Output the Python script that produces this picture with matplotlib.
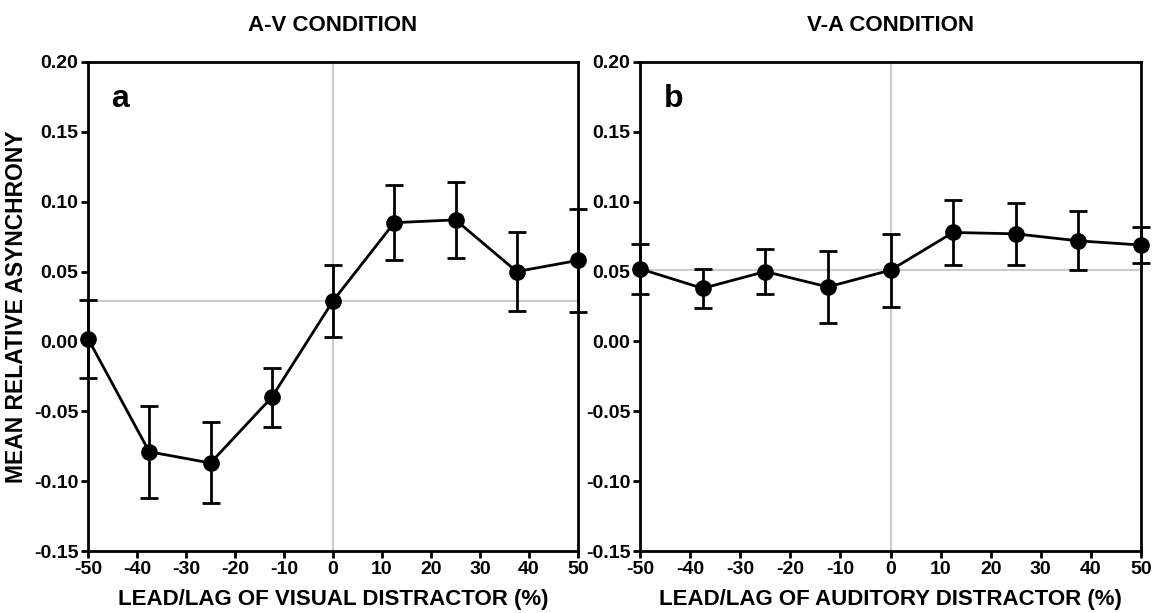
import matplotlib
matplotlib.use("Agg")
import matplotlib.pyplot as plt

plt.rcParams['font.family'] = ['Liberation Sans', 'DejaVu Sans']
plt.rcParams['font.weight'] = 'bold'

x_vals = [-50, -37.5, -25, -12.5, 0, 12.5, 25, 37.5, 50]
av_mean = [0.002, -0.079, -0.087, -0.040, 0.029, 0.085, 0.087, 0.050, 0.058]
av_err = [0.028, 0.033, 0.029, 0.021, 0.026, 0.027, 0.027, 0.028, 0.037]
va_mean = [0.052, 0.038, 0.050, 0.039, 0.051, 0.078, 0.077, 0.072, 0.069]
va_err = [0.018, 0.014, 0.016, 0.026, 0.026, 0.023, 0.022, 0.021, 0.013]

x_ticks = [-50, -40, -30, -20, -10, 0, 10, 20, 30, 40, 50]
y_ticks = [-0.15, -0.10, -0.05, 0.00, 0.05, 0.10, 0.15, 0.20]

titles = ["A-V CONDITION", "V-A CONDITION"]
xlabels = ["LEAD/LAG OF VISUAL DISTRACTOR (%)", "LEAD/LAG OF AUDITORY DISTRACTOR (%)"]
panel_letters = ["a", "b"]
ylabel = "MEAN RELATIVE ASYNCHRONY"

fig = plt.figure(figsize=(11.52, 6.13), dpi=100)
ax1 = fig.add_axes([88/1152, 1-551/613, (578-88)/1152, (551-62)/613])
ax2 = fig.add_axes([640/1152, 1-551/613, (1141-640)/1152, (551-62)/613])

for ax, means, errs, title, xl, letter in zip(
        [ax1, ax2], [av_mean, va_mean], [av_err, va_err], titles, xlabels, panel_letters):
    ref = means[x_vals.index(0)]
    ax.axvline(0, color='#cccccc', lw=1.5, zorder=0)
    ax.axhline(ref, color='#cccccc', lw=1.5, zorder=0)
    ax.errorbar(x_vals, means, yerr=errs, color='black', lw=2, marker='o',
                markersize=11, capsize=6.5, capthick=2, elinewidth=2, zorder=3,
                clip_on=False)
    ax.set_xlim(-50, 50)
    ax.set_ylim(-0.15, 0.20)
    ax.set_xticks(x_ticks)
    ax.set_yticks(y_ticks)
    ax.set_xticklabels([str(t) for t in x_ticks])
    ax.set_yticklabels([f"{t:.2f}" for t in y_ticks])
    ax.tick_params(direction='out', length=5, width=2, labelsize=14, pad=2)
    for lab in ax.get_xticklabels() + ax.get_yticklabels():
        lab.set_fontweight('bold')
    for sp in ax.spines.values():
        sp.set_linewidth(2)
    ax.set_xlabel(xl, fontsize=16, fontweight='bold', labelpad=8)
    ax.text(0.5, 1.074, title, transform=ax.transAxes, ha='center', va='center',
            fontsize=16, fontweight='bold')
    ax.text(0.048, 0.925, letter, transform=ax.transAxes, ha='left', va='center',
            fontsize=23, fontweight='bold')

ax1.set_ylabel(ylabel, fontsize=16.5, fontweight='bold', labelpad=4)

fig.savefig("out.png", dpi=100)
